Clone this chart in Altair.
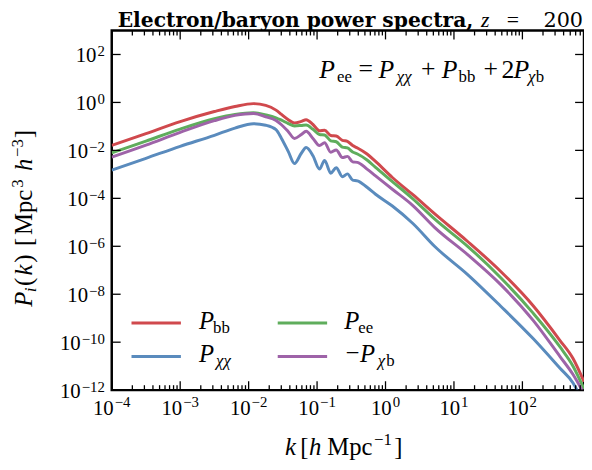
import altair as alt
import pandas as pd

# ---------------- data (log10 units) ----------------
log10_k = [-4.0, -3.5, -3.0, -2.5, -2.2, -1.93, -1.75, -1.6, -1.52, -1.42, -1.33,
           -1.23, -1.16, -1.06, -0.965, -0.89, -0.80, -0.72, -0.63, -0.556, -0.48,
           -0.41, -0.27, -0.15, 0.1, 0.4, 0.72, 1.2, 1.68, 2.16, 2.55, 2.74, 2.9]

log10_P_bb = [-1.79, -1.30, -0.80, -0.38, -0.17, -0.05, -0.12, -0.32, -0.50, -0.72, -0.86,
              -0.79, -0.72, -0.92, -1.18, -1.16, -1.38, -1.40, -1.58, -1.62, -1.80,
              -1.90, -2.15, -2.45, -3.13, -3.85, -4.65, -5.80, -7.04, -8.49, -9.93, -10.68, -11.65]

log10_P_xx = [-2.82, -2.33, -1.83, -1.37, -1.07, -0.89, -0.95, -1.13, -1.50, -2.05, -2.55,
              -2.12, -1.88, -2.22, -2.78, -2.42, -2.95, -2.72, -3.10, -2.98, -3.24,
              -3.27, -3.54, -3.82, -4.32, -5.05, -6.01, -7.18, -8.49, -9.86, -11.09, -11.70, -12.6]

log10_P_ee = [-2.10, -1.61, -1.11, -0.68, -0.50, -0.43, -0.52, -0.64, -0.74, -0.88, -0.98,
              -0.96, -0.94, -1.12, -1.34, -1.36, -1.60, -1.64, -1.86, -1.90, -2.07,
              -2.15, -2.40, -2.70, -3.30, -4.02, -4.87, -6.00, -7.30, -8.80, -10.20, -11.00, -11.95]

log10_P_xb = [-2.28, -1.78, -1.25, -0.76, -0.54, -0.46, -0.60, -0.75, -0.93, -1.22, -1.50,
              -1.34, -1.20, -1.50, -1.80, -1.68, -2.08, -1.98, -2.30, -2.25, -2.48,
              -2.50, -2.78, -3.05, -3.62, -4.30, -5.22, -6.35, -7.59, -9.10, -10.60, -11.35, -12.15]

series_names = ["bb", "χχ", "ee", "χb"]
series_colors = ["#d0494d", "#5a8bbd", "#5fad5c", "#9e63a8"]

x_exponents = [-4, -3, -2, -1, 0, 1, 2]
y_exponents = [-12, -10, -8, -6, -4, -2, 0, 2]
x_domain = [1e-4, 10 ** 2.9]
y_domain = [1e-12, 1e3]

# ---------------- layout ----------------
W, H = 478, 364
LEFT, TOP = 113, 28          # absolute page position of the plot area
SERIF = "Liberation Serif"
BASE_FS, EXP_FS = 21, 15

rows = []
for name, vals in zip(series_names, [log10_P_bb, log10_P_xx, log10_P_ee, log10_P_xb]):
    for lk, lp in zip(log10_k, vals):
        rows.append({"k": 10 ** lk, "P": 10 ** lp, "series": name})
df = pd.DataFrame(rows)

xscale = alt.Scale(type="log", domain=x_domain, nice=False)
yscale = alt.Scale(type="log", domain=y_domain, nice=False)

lines = alt.Chart(df).mark_line(strokeWidth=3, interpolate="monotone", clip=True).encode(
    x=alt.X("k:Q", scale=xscale, axis=None),
    y=alt.Y("P:Q", scale=yscale, axis=None),
    color=alt.Color("series:N", scale=alt.Scale(domain=series_names, range=series_colors),
                    legend=None),
)


def exp_text(e):
    return str(e).replace("-", "−")


def exp_width(e):
    s = exp_text(e)
    return sum(0.564 * EXP_FS if c == "−" else 0.5 * EXP_FS for c in s)


# tick positions
x_major = pd.DataFrame({"k": [10.0 ** e for e in x_exponents],
                        "exp": [exp_text(e) for e in x_exponents],
                        "w": [exp_width(e) for e in x_exponents]})
x_minor = pd.DataFrame({"k": [m * 10.0 ** e for e in range(-4, 3) for m in range(2, 10)
                              if m * 10.0 ** e <= x_domain[1]]})
y_major = pd.DataFrame({"P": [10.0 ** e for e in y_exponents],
                        "exp": [exp_text(e) for e in y_exponents],
                        "w": [exp_width(e) for e in y_exponents]})


def xticks(data, length):
    bottom = alt.Chart(data).mark_rule(color="black", strokeWidth=1.3).encode(
        x=alt.X("k:Q", scale=xscale, axis=None), y=alt.value(H), y2=alt.value(H - length))
    top = alt.Chart(data).mark_rule(color="black", strokeWidth=1.3).encode(
        x=alt.X("k:Q", scale=xscale, axis=None), y=alt.value(0), y2=alt.value(length))
    return [bottom, top]


def yticks(data, length):
    left = alt.Chart(data).mark_rule(color="black", strokeWidth=1.3).encode(
        y=alt.Y("P:Q", scale=yscale, axis=None), x=alt.value(0), x2=alt.value(length))
    right = alt.Chart(data).mark_rule(color="black", strokeWidth=1.3).encode(
        y=alt.Y("P:Q", scale=yscale, axis=None), x=alt.value(W), x2=alt.value(W - length))
    return [left, right]


BASE_W = 2 * 0.5 * BASE_FS


def x_label_layers():
    out = []
    for w, grp in x_major.groupby("w"):
        total = BASE_W + 1 + w
        out.append(alt.Chart(grp).mark_text(
            align="right", baseline="alphabetic", dx=-total / 2 + BASE_W, font=SERIF,
            fontSize=BASE_FS, color="black", text="10").encode(
            x=alt.X("k:Q", scale=xscale, axis=None), y=alt.value(H + 25)))
        out.append(alt.Chart(grp).mark_text(
            align="left", baseline="alphabetic", dx=-total / 2 + BASE_W + 1, font=SERIF,
            fontSize=EXP_FS, color="black").encode(
            x=alt.X("k:Q", scale=xscale, axis=None), y=alt.value(H + 17), text="exp:N"))
    return out


def y_label_layers():
    out = []
    for w, grp in y_major.groupby("w"):
        out.append(alt.Chart(grp).mark_text(
            align="right", baseline="alphabetic", dx=-(w + 1), dy=7.5, font=SERIF,
            fontSize=BASE_FS, color="black", text="10").encode(
            y=alt.Y("P:Q", scale=yscale, axis=None), x=alt.value(-7)))
    out.append(alt.Chart(y_major).mark_text(
        align="right", baseline="alphabetic", dy=1.5, font=SERIF,
        fontSize=EXP_FS, color="black").encode(
        y=alt.Y("P:Q", scale=yscale, axis=None), x=alt.value(-7), text="exp:N"))
    return out


def txt(s, x, y, size, style="normal", weight="normal", font=SERIF, align="center", angle=0):
    return alt.Chart(pd.DataFrame({"t": [s]})).mark_text(
        align=align, baseline="alphabetic", font=font, fontSize=size, fontStyle=style,
        fontWeight=weight, angle=angle, color="black").encode(
        x=alt.value(x - LEFT), y=alt.value(y - TOP), text="t:N")


def legend_line(color, x1, x2, y):
    return alt.Chart(pd.DataFrame({"a": [0]})).mark_rule(color=color, strokeWidth=3).encode(
        x=alt.value(x1 - LEFT), x2=alt.value(x2 - LEFT), y=alt.value(y - TOP))


texts = [
    # title
    txt("Electron/baryon power spectra,", 479, 24, 20.5, weight="bold", font="DejaVu Serif",
        align="right"),
    txt("z", 491, 24, 22, style="italic"),
    txt("=", 519, 24, 22),
    txt("200", 590, 24, 21, font="DejaVu Serif", align="right"),
    # annotation
    txt("P", 331, 76, 26, style="italic"),
    txt("ee", 348.5, 80.5, 17),
    txt("=", 370, 75, 26),
    txt("P", 391, 76, 26, style="italic"),
    txt("χχ", 409, 80.5, 17, style="italic"),
    txt("+", 433.3, 75, 26),
    txt("P", 455, 76, 26, style="italic"),
    txt("bb", 472.5, 80.5, 17),
    txt("+", 496.7, 75, 26),
    txt("2", 514, 76, 26),
    txt("P", 527.5, 76, 26, style="italic"),
    txt("χ", 538, 80.5, 17, style="italic"),
    txt("b", 546.5, 80.5, 17),
    # legend labels
    txt("P", 209, 330, 25, style="italic"),
    txt("bb", 224, 334, 17),
    txt("P", 209, 364, 25, style="italic"),
    txt("χχ", 226, 368, 17, style="italic"),
    txt("P", 356, 330, 25, style="italic"),
    txt("ee", 370, 334, 17),
    txt("−", 357, 363, 25),
    txt("P", 372, 364, 25, style="italic"),
    txt("χ", 386, 368, 17, style="italic"),
    txt("b", 395, 368, 17),
    # x-axis title
    txt("k", 294, 458, 25, style="italic"),
    txt("[", 308, 458, 25),
    txt("h", 319, 458, 25, style="italic"),
    txt("Mpc", 354, 458, 25),
    txt("−1", 387.5, 448, 17),
    txt("]", 403, 458, 25),
    # y-axis title (rotated, reads upward)
    txt("P", 32, 300, 25, style="italic", angle=270),
    txt("i", 36, 290.5, 17, style="italic", angle=270),
    txt("(", 32, 282.5, 25, angle=270),
    txt("k", 32, 270.5, 25, style="italic", angle=270),
    txt(")", 32, 259, 25, angle=270),
    txt("[", 32, 242, 25, angle=270),
    txt("Mpc", 32, 212, 25, angle=270),
    txt("3", 23, 183, 17, angle=270),
    txt("h", 32, 164, 25, style="italic", angle=270),
    txt("−3", 23, 147, 17, angle=270),
    txt("]", 32, 133, 25, angle=270),
]

legend_lines = [
    legend_line(series_colors[0], 133, 183, 324),
    legend_line(series_colors[1], 133, 183, 358),
    legend_line(series_colors[2], 281, 331, 324),
    legend_line(series_colors[3], 281, 331, 358),
]

chart = alt.layer(
    lines,
    *xticks(x_major, 9), *xticks(x_minor, 5),
    *yticks(y_major, 9),
    *x_label_layers(), *y_label_layers(),
    *legend_lines,
    *texts,
).properties(
    width=W, height=H,
    padding={"left": LEFT - 8, "top": TOP - 8, "right": 0, "bottom": 74},
    autosize=alt.AutoSizeParams(type="none"),
).configure_view(stroke="black", strokeWidth=2.5)

chart.save("out.html", embed_options={"renderer": "svg", "actions": False})
